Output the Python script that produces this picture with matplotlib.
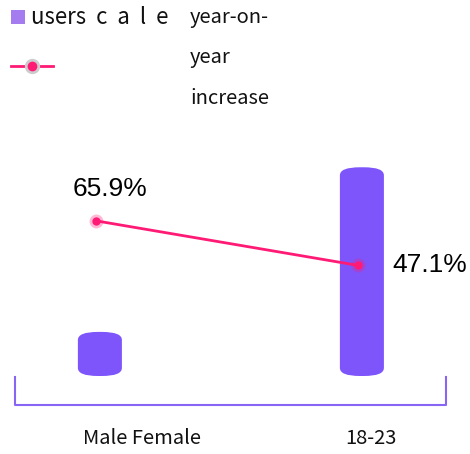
import numpy as np
import matplotlib.pyplot as plt
from matplotlib.patches import Rectangle, FancyBboxPatch
from matplotlib.transforms import IdentityTransform

plt.rcParams['font.family'] = ['Noto Sans CJK SC', 'DejaVu Sans']

categories = ['Male Female', '18-23']
user_scale = [21.5, 100]
yoy_increase = [65.9, 47.1]
pct_labels = ['65.9%', '47.1%']

bar_color = '#7d55fb'
line_color = '#ff1a75'

fig = plt.figure(figsize=(4.7, 4.54), dpi=100)
ax = fig.add_axes([15/470, 77/454, 431/470, 237/454])
ax2 = ax.twinx()

x = np.arange(len(categories))
ax.set_xlim(-0.324, 1.321)
ax.set_ylim(0, 113)
ax2.set_ylim(0, 100)

# bars drawn invisible, then redrawn as rounded (cylinder-like) shapes in pixels
bars = ax.bar(x, user_scale, width=0.168, color='none')
fig.canvas.draw()
for b in bars:
    bb = b.get_window_extent()
    ax.add_patch(FancyBboxPatch((bb.x0, bb.y0 + 1), bb.width, bb.height - 1,
                                boxstyle='round,pad=0,rounding_size=20',
                                mutation_aspect=0.4, transform=IdentityTransform(),
                                color=bar_color, lw=0))

lx = x - 0.015
ax2.plot(lx, yoy_increase, color=line_color, lw=2, zorder=3)
ax2.plot(lx, yoy_increase, 'o', color=line_color, ms=10, alpha=0.3, mec='none', zorder=4)
ax2.plot(lx, yoy_increase, 'o', color=line_color, ms=6, mec='none', zorder=5)

ax2.annotate(pct_labels[0], (lx[0], yoy_increase[0]), xytext=(10, 23),
             textcoords='offset points', ha='center', va='center',
             fontsize=19, family='Liberation Sans')
ax2.annotate(pct_labels[1], (lx[1], yoy_increase[1]), xytext=(25, 0),
             textcoords='offset points', ha='left', va='center',
             fontsize=19, family='Liberation Sans')

for a in (ax, ax2):
    for s in a.spines.values():
        s.set_visible(False)
    a.set_xticks([])
    a.set_yticks([])

# bracket under the axis
ax.plot([0, 0, 1, 1], [0, -0.118, -0.118, 0], transform=ax.transAxes,
        color='#8866f5', lw=1.5, clip_on=False)

offsets = [30, 6.5]
for xi, lab, dx in zip(x, categories, offsets):
    ax.annotate(lab, (xi, 0), xytext=(dx, -44), textcoords='offset points',
                ha='center', va='center', fontsize=14.5, color='#111111')

# legend
fig.patches.append(Rectangle((11/470, 1 - 24/454), 14/470, 14/454,
                             transform=fig.transFigure, color='#a47cf0', lw=0))
fig.text(31/470, 1 - 17/454, 'users  c  a  l  e', fontsize=16, va='center', color='#111111')
fig.add_artist(plt.Line2D([11/470, 53/470], [1 - 66/454, 1 - 66/454],
                          color=line_color, lw=2, transform=fig.transFigure))
fig.add_artist(plt.Line2D([32/470], [1 - 66/454], marker='o', ms=11, color='#cccccc',
                          mec='none', transform=fig.transFigure))
fig.add_artist(plt.Line2D([32/470], [1 - 66/454], marker='o', ms=7, color=line_color,
                          mec='none', transform=fig.transFigure))
for i, t in enumerate(['year-on-', 'year', 'increase']):
    fig.text(190/470, 1 - (18 + 40 * i)/454, t, fontsize=14.5, va='center', color='#111111')

fig.savefig('out.png', dpi=100)
